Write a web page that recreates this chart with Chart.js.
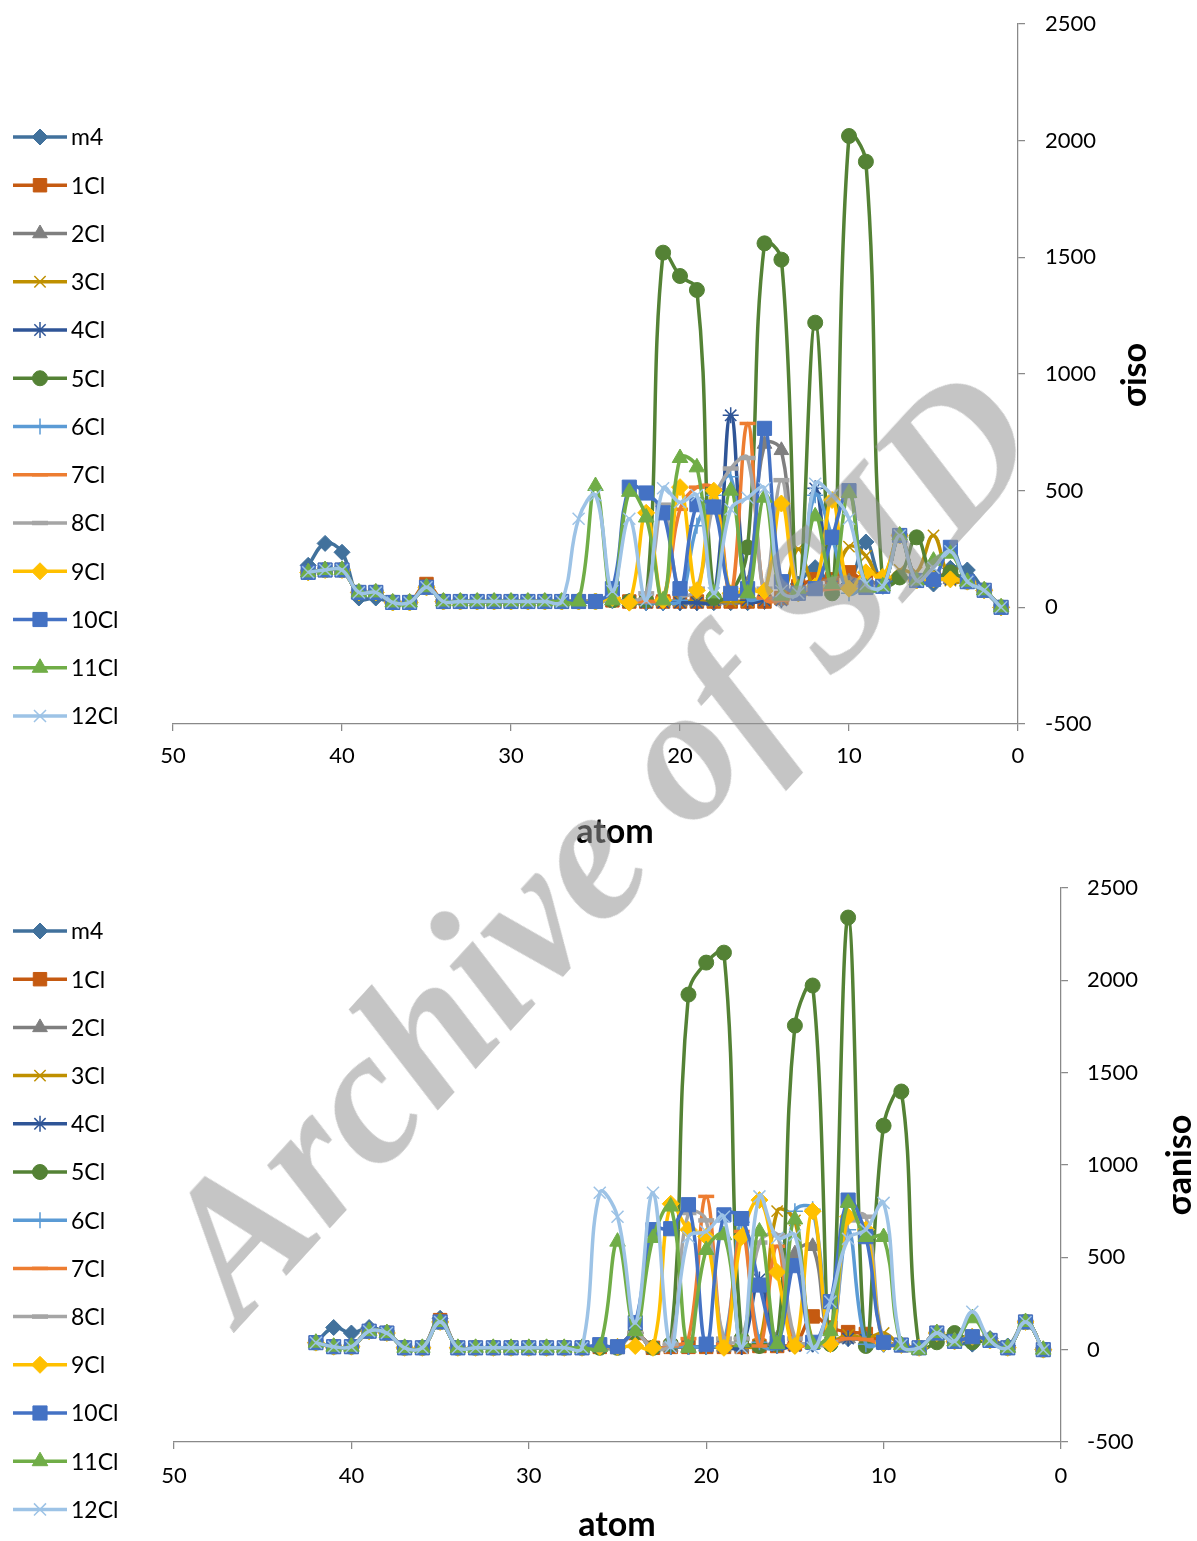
<!DOCTYPE html>
<html>
<head>
<meta charset="utf-8">
<script src="https://cdn.jsdelivr.net/npm/chart.js@4/dist/chart.umd.min.js"></script>
<style>
  html, body { margin: 0; padding: 0; background: #fff; }
  body { width: 1197px; height: 1541px; position: relative; overflow: hidden; }
  .box { position: absolute; left: 0; width: 1197px; }
  #wm {
    position: absolute; left: 597px; top: 842px;
    transform: translate(-50%, -50%) rotate(-47.5deg);
    font-family: "Liberation Serif", "DejaVu Serif", serif;
    font-weight: bold; font-style: italic; font-size: 192px;
    color: rgba(150,150,150,0.55); white-space: nowrap; pointer-events: none;
    z-index: 10; line-height: 1;
  }
</style>
</head>
<body>
<div class="box" style="top:0;height:860px"><canvas id="c1" width="1197" height="860"></canvas></div>
<div class="box" style="top:860px;height:681px"><canvas id="c2" width="1197" height="681"></canvas></div>
<div id="wm">Archive of SID</div>
<script>
// ---------------- DATA ----------------
const atoms = [1,2,3,4,5,6,7,8,9,10,11,12,13,14,15,16,17,18,19,20,21,22,23,24,25,26,27,28,29,30,31,32,33,34,35,36,37,38,39,40,41,42];
const seriesNames = ["m4","1Cl","2Cl","3Cl","4Cl","5Cl","6Cl","7Cl","8Cl","9Cl","10Cl","11Cl","12Cl"];
const xTicks = [0,10,20,30,40,50];
const yTicks = [-500,0,500,1000,1500,2000,2500];

// sigma iso (top chart), atom 1 .. 42
const iso_m4   = [0,73,160,167,100,115,130,100,280,100, 90,170,100,35,25,20,20,20,20,20, 20,20,20,30,25,25,25,25,25,25, 25,25,25,25,86,21,21,40,40,236, 274,180];
const iso_1Cl  = [0,73,110,140,130,115,308,120,110,150, 120,120,90,40,25,25,25,25,25,25, 25,25,25,30,25,25,25,25,25,25, 25,25,25,25,100,21,21,64,64,160, 160,150];
const iso_2Cl  = [0,73,110,120,130,115,300,100,120,110, 70,90,60,673,700,100,30,25,25,25, 25,25,25,30,25,25,25,25,25,25, 25,25,25,25,86,21,21,64,64,160, 160,150];
const iso_3Cl  = [0,73,110,115,308,150,160,100,220,260, 110,80,250,40,30,25,25,25,25,25, 25,25,25,30,25,25,25,25,25,25, 25,25,25,25,86,21,21,64,64,160, 160,150];
const iso_4Cl  = [0,73,110,120,120,115,308,90,90,100, 90,510,80,30,30,30,823,30,20,20, 20,20,25,30,25,25,25,25,25,25, 25,25,25,25,86,21,21,64,64,160, 160,150];
const iso_5Cl  = [0,73,110,150,124,300,128,100,1910,2020, 60,1220,60,1490,1560,257,60,40,1360,1420, 1520,30,25,30,25,25,25,25,25,25, 25,25,25,25,86,21,21,64,64,160, 160,150];
const iso_6Cl  = [0,73,110,120,120,115,308,90,90,60, 300,480,60,40,40,40,560,480,350,30, 20,20,25,30,25,25,25,25,25,25, 25,25,25,25,86,21,21,64,64,160, 160,150];
const iso_7Cl  = [0,73,110,120,120,115,308,90,90,90, 80,70,60,30,40,788,50,505,515,420, 40,25,25,30,25,25,25,25,25,25, 25,25,25,25,86,21,21,64,64,160, 160,150];
const iso_8Cl  = [0,73,110,120,120,115,308,90,90,90, 90,90,80,545,80,640,595,450,80,60, 440,60,25,30,25,25,25,25,25,25, 25,25,25,25,86,21,21,64,64,160, 160,150];
const iso_9Cl  = [0,73,110,120,120,115,308,130,150,80, 460,90,60,445,70,80,60,500,73,515, 30,405,20,40,25,25,25,25,25,25, 25,25,25,25,86,21,21,64,64,160, 160,150];
const iso_10Cl = [0,73,110,257,120,115,308,90,85,500, 300,80,60,110,767,80,60,430,440,80, 405,490,515,80,25,25,25,25,25,25, 25,25,25,25,86,21,21,64,64,160, 160,150];
const iso_11Cl = [0,73,110,230,200,115,308,90,85,490, 100,390,80,50,470,60,500,60,600,640, 30,385,495,30,520,25,25,25,25,25, 25,25,25,25,86,21,21,64,64,160, 160,150];
const iso_12Cl = [0,73,110,240,170,115,308,90,100,380, 480,530,60,70,510,470,420,60,480,450, 510,30,380,70,480,380,25,25,25,25, 25,25,25,25,86,21,21,64,64,160, 160,150];

// sigma aniso (bottom chart), atom 1 .. 42
const ani_m4   = [0,150,20,60,30,45,90,10,25,30, 55,60,40,30,20,20,20,15,15,15, 15,15,10,90,15,15,10,10,10,10, 10,10,10,10,170,10,10,90,120,90, 120,38];
const ani_1Cl  = [0,150,10,50,70,45,90,10,25,40, 85,95,120,180,30,20,20,15,15,15, 15,15,10,90,15,15,10,10,10,10, 10,10,10,10,160,10,10,90,100,16, 16,38];
const ani_2Cl  = [0,150,10,50,70,45,90,10,25,30, 55,60,40,560,520,60,20,15,15,15, 15,15,10,92,15,15,10,10,10,10, 10,10,10,10,150,10,10,90,100,16, 16,38];
const ani_3Cl  = [0,150,10,50,70,45,90,10,25,90, 60,80,40,40,700,750,30,15,15,15, 15,15,10,90,15,15,10,10,10,10, 10,10,10,10,150,10,10,90,100,16, 16,38];
const ani_4Cl  = [0,150,10,50,70,45,90,10,25,30, 55,60,40,30,20,20,380,15,15,15, 15,15,10,90,15,15,10,10,10,10, 10,10,10,10,150,10,10,90,100,16, 16,38];
const ani_5Cl  = [0,150,10,50,40,90,40,10,1398,1213, 20,2340,30,1972,1755,30,20,60,2150,2096, 1923,30,10,90,10,10,10,10,10,10, 10,10,10,10,150,10,10,90,100,16, 16,38];
const ani_6Cl  = [0,150,10,50,70,45,90,10,25,30, 30,650,30,760,750,20,40,690,40,15, 15,15,10,90,15,15,10,10,10,10, 10,10,10,10,150,10,10,90,100,16, 16,38];
const ani_7Cl  = [0,150,10,50,70,45,90,10,25,30, 55,60,40,30,30,560,20,640,30,830, 60,20,10,90,15,15,10,10,10,10, 10,10,10,10,150,10,10,90,100,16, 16,38];
const ani_8Cl  = [0,150,10,50,70,45,90,10,25,40, 720,700,40,30,60,620,580,60,60,700, 740,30,10,90,15,15,10,10,10,10, 10,10,10,10,150,10,10,90,100,16, 16,38];
const ani_9Cl  = [0,150,10,50,70,45,90,10,25,35, 650,720,30,750,20,420,810,610,10,612, 650,790,10,20,15,15,10,10,10,10, 10,10,10,10,150,10,10,90,100,16, 16,38];
const ani_10Cl = [0,150,10,50,70,45,90,10,25,40, 612,810,260,40,455,38,350,710,730,30, 785,655,650,146,16,27,10,10,10,10, 10,10,10,10,150,10,10,90,100,16, 16,38];
const ani_11Cl = [0,150,10,50,170,45,90,0,25,610, 610,795,100,30,705,30,640,40,620,540, 10,775,605,100,585,15,10,10,10,10, 10,10,10,10,150,10,10,90,100,16, 16,38];
const ani_12Cl = [0,150,10,50,205,45,90,10,25,795, 650,600,260,10,620,605,830,10,720,640, 610,15,850,146,720,850,10,10,10,10, 10,10,10,10,150,10,10,90,100,16, 16,38];

const isoSeries = [iso_m4,iso_1Cl,iso_2Cl,iso_3Cl,iso_4Cl,iso_5Cl,iso_6Cl,iso_7Cl,iso_8Cl,iso_9Cl,iso_10Cl,iso_11Cl,iso_12Cl];
const aniSeries = [ani_m4,ani_1Cl,ani_2Cl,ani_3Cl,ani_4Cl,ani_5Cl,ani_6Cl,ani_7Cl,ani_8Cl,ani_9Cl,ani_10Cl,ani_11Cl,ani_12Cl];

// ---------------- STYLE ----------------
const colors = ["#41719C","#C55A11","#7F7F7F","#BF9000","#2F5597","#548235","#5B9BD5","#ED7D31","#A5A5A5","#FFC000","#4472C4","#70AD47","#9DC3E6"];
const markers = [
  {s:"rectRot", r:8, w:1},
  {s:"rect", r:9.5, w:1},
  {s:"triangle", r:8.5, w:1},
  {s:"crossRot", r:8, w:1.5},
  {s:"star", r:8, w:1.5},
  {s:"circle", r:7.5, w:1},
  {s:"cross", r:8, w:1.5},
  {s:"line", r:8, w:3.5},
  {s:"line", r:8, w:4.5},
  {s:"rectRot", r:8.5, w:1},
  {s:"rect", r:10, w:1},
  {s:"triangle", r:9, w:1},
  {s:"crossRot", r:8.5, w:1.5}
];
const FONT = "Lato, 'Open Sans', sans-serif";
const AXIS = "#898989";

function buildDatasets(list) {
  return seriesNames.map((name, i) => ({
    label: name,
    data: atoms.map((a, j) => ({x: a, y: list[i][j]})),
    borderColor: colors[i],
    backgroundColor: colors[i],
    borderWidth: 3.5,
    pointStyle: markers[i].s,
    pointRadius: markers[i].r,
    pointBorderWidth: markers[i].w,
    pointBackgroundColor: colors[i],
    pointBorderColor: colors[i],
    tension: 0.4,
    order: 12 - i
  }));
}

function makeChart(id, list, cfg) {
  const legendPlugin = {
    id: 'excelLegend',
    afterDraw(chart) {
      const ctx = chart.ctx;
      ctx.save();
      chart.data.datasets.forEach((ds, i) => {
        const y = cfg.legendY0 + i * cfg.legendStep;
        ctx.strokeStyle = ds.borderColor;
        ctx.lineWidth = 3.5;
        ctx.beginPath(); ctx.moveTo(13, y); ctx.lineTo(67, y); ctx.stroke();
        ctx.fillStyle = ds.pointBackgroundColor;
        ctx.strokeStyle = ds.pointBorderColor;
        ctx.lineWidth = ds.pointBorderWidth;
        Chart.helpers.drawPoint(ctx, {pointStyle: ds.pointStyle, radius: ds.pointRadius, rotation: 0, borderWidth: ds.pointBorderWidth}, 40, y);
        ctx.fillStyle = "#000";
        ctx.font = "23px " + FONT;
        ctx.textBaseline = "middle";
        ctx.textAlign = "left";
        ctx.fillText(ds.label, 71, y + 1);
      });
      // axis titles
      ctx.fillStyle = "#000";
      ctx.font = "bold 34px " + FONT;
      ctx.textAlign = "center";
      ctx.textBaseline = "middle";
      ctx.fillText("atom", cfg.xTitle[0], cfg.xTitle[1]);
      ctx.translate(cfg.yTitle[0], cfg.yTitle[1]);
      ctx.rotate(-Math.PI / 2);
      ctx.fillText(cfg.yTitleText, 0, 0);
      ctx.restore();
    }
  };
  return new Chart(document.getElementById(id), {
    type: 'line',
    data: { datasets: buildDatasets(list) },
    options: {
      responsive: false,
      animation: false,
      devicePixelRatio: 1,
      layout: { padding: { left: cfg.left, top: cfg.top, right: 0, bottom: 0 } },
      plugins: { legend: { display: false }, tooltip: { enabled: false } },
      scales: {
        x: {
          type: 'linear', reverse: true, min: 0, max: 50,
          afterBuildTicks: (s) => { s.ticks = xTicks.map(v => ({value: v})); },
          afterFit: (s) => { s.height = cfg.xH; s.paddingLeft = 0; s.paddingRight = 0; },
          grid: { display: true, drawOnChartArea: false, drawTicks: true, tickLength: 7, color: AXIS, lineWidth: 1.25 },
          border: { display: true, color: AXIS, width: 1.25 },
          ticks: { padding: cfg.xPad, color: "#000", font: { family: FONT, size: 22 }, maxRotation: 0, callback: (v) => String(v) }
        },
        y: {
          type: 'linear', position: 'right', min: -500, max: 2500,
          afterBuildTicks: (s) => { s.ticks = yTicks.map(v => ({value: v})); },
          afterFit: (s) => { s.width = cfg.yW; s.paddingTop = 0; s.paddingBottom = 0; },
          grid: { display: true, drawOnChartArea: false, drawTicks: true, tickLength: 7, color: AXIS, lineWidth: 1.25 },
          border: { display: true, color: AXIS, width: 1.25 },
          ticks: { padding: cfg.yPad, color: "#000", font: { family: FONT, size: 22 }, callback: (v) => String(v) }
        }
      }
    },
    plugins: [legendPlugin]
  });
}

makeChart('c1', isoSeries, {
  left: 173, top: 24, xH: 136, yW: 179, xPad: 12, yPad: 20,
  legendY0: 137, legendStep: 48.25,
  xTitle: [615, 832], yTitle: [1135, 375], yTitleText: "σiso"
});
makeChart('c2', aniSeries, {
  left: 174, top: 28, xH: 99, yW: 136, xPad: 14, yPad: 19,
  legendY0: 71, legendStep: 48.2,
  xTitle: [617, 665], yTitle: [1180, 305], yTitleText: "σaniso"
});
</script>
</body>
</html>
